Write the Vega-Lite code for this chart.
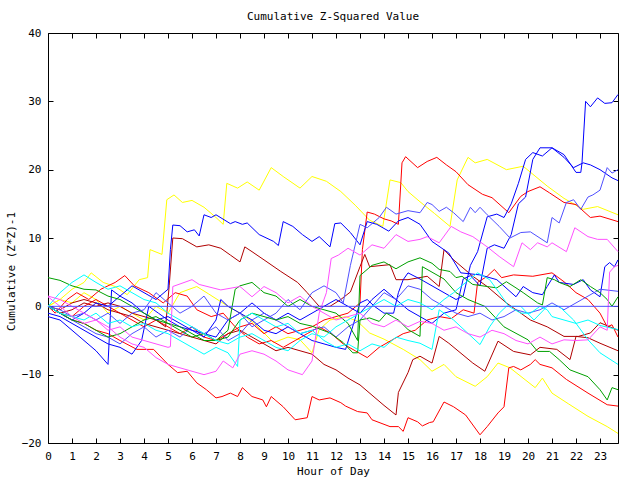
{
"$schema": "https://vega.github.io/schema/vega-lite/v6.json",
"autosize": "none",
"width": 570, "height": 410,
"padding": {"left": 48, "top": 33, "right": 22, "bottom": 37},
"background": "white",
"title": {"text": "Cumulative Z-Squared Value", "font": "DejaVu Sans Mono", "fontSize": 11, "fontWeight": "normal", "color": "black", "offset": 5, "anchor": "middle"},
"config": {"view": {"stroke": null},
 "axis": {"grid": false, "domainColor": "black", "tickColor": "black", "labelColor": "black", "titleColor": "black", "labelFont": "DejaVu Sans Mono", "titleFont": "DejaVu Sans Mono", "labelFontSize": 11, "titleFontSize": 11, "titleFontWeight": "normal", "tickSize": -5, "domainWidth": 1, "tickWidth": 1}},
"layer": [
{
"data": {"values": [
{"s":"Y1","h":0,"v":0},{"s":"Y1","h":0.5,"v":1},{"s":"Y1","h":1,"v":2.5},{"s":"Y1","h":1.5,"v":3.5},{"s":"Y1","h":1.8,"v":4.9},{"s":"Y1","h":2.3,"v":3.5},{"s":"Y1","h":2.8,"v":2.9},{"s":"Y1","h":3.3,"v":1.7},{"s":"Y1","h":3.8,"v":3.9},{"s":"Y1","h":4.15,"v":4.2},{"s":"Y1","h":4.25,"v":8.3},{"s":"Y1","h":4.75,"v":7.6},{"s":"Y1","h":4.95,"v":15.6},{"s":"Y1","h":5.25,"v":16.3},{"s":"Y1","h":5.6,"v":15.2},{"s":"Y1","h":6,"v":15.5},{"s":"Y1","h":6.5,"v":14.5},{"s":"Y1","h":7,"v":13},{"s":"Y1","h":7.3,"v":12},{"s":"Y1","h":7.45,"v":18},{"s":"Y1","h":7.9,"v":17.3},{"s":"Y1","h":8.3,"v":18.2},{"s":"Y1","h":8.8,"v":17},{"s":"Y1","h":9.3,"v":20.3},{"s":"Y1","h":9.8,"v":19},{"s":"Y1","h":10.5,"v":17.3},{"s":"Y1","h":11,"v":19},{"s":"Y1","h":11.6,"v":18.3},{"s":"Y1","h":12.2,"v":16.8},{"s":"Y1","h":12.8,"v":14.8},{"s":"Y1","h":13.4,"v":12.6},{"s":"Y1","h":13.95,"v":11.7},{"s":"Y1","h":14.25,"v":18.5},{"s":"Y1","h":14.7,"v":18.1},{"s":"Y1","h":15,"v":16.8},{"s":"Y1","h":15.5,"v":15.3},{"s":"Y1","h":16.1,"v":13.6},{"s":"Y1","h":16.75,"v":11.7},{"s":"Y1","h":17.05,"v":18.5},{"s":"Y1","h":17.5,"v":21.8},{"s":"Y1","h":17.8,"v":21},{"s":"Y1","h":18.3,"v":21.5},{"s":"Y1","h":19.1,"v":20},{"s":"Y1","h":19.8,"v":20.5},{"s":"Y1","h":20.8,"v":17.6},{"s":"Y1","h":21.5,"v":15.8},{"s":"Y1","h":22.3,"v":14.2},{"s":"Y1","h":22.9,"v":14.6},{"s":"Y1","h":23.75,"v":13.4},

{"s":"Y2","h":0,"v":0},{"s":"Y2","h":0.5,"v":1},{"s":"Y2","h":1,"v":0.5},{"s":"Y2","h":1.5,"v":2},{"s":"Y2","h":2,"v":1},{"s":"Y2","h":2.5,"v":-1},{"s":"Y2","h":3,"v":0},{"s":"Y2","h":3.5,"v":-1},{"s":"Y2","h":4,"v":-2},{"s":"Y2","h":4.5,"v":0},{"s":"Y2","h":5,"v":-1},{"s":"Y2","h":5.5,"v":2},{"s":"Y2","h":6.2,"v":2.9},{"s":"Y2","h":6.7,"v":1.8},{"s":"Y2","h":7.5,"v":0},{"s":"Y2","h":8,"v":-1},{"s":"Y2","h":8.6,"v":-2.5},{"s":"Y2","h":9.4,"v":-5.3},{"s":"Y2","h":10,"v":-4.5},{"s":"Y2","h":10.5,"v":-4.9},{"s":"Y2","h":11,"v":-6.8},{"s":"Y2","h":11.3,"v":-3.4},{"s":"Y2","h":11.75,"v":-2},{"s":"Y2","h":12.4,"v":-1.5},{"s":"Y2","h":12.9,"v":-2.2},{"s":"Y2","h":13.4,"v":-3.9},{"s":"Y2","h":14,"v":-4.8},{"s":"Y2","h":14.8,"v":-6.3},{"s":"Y2","h":15.5,"v":-7.8},{"s":"Y2","h":16,"v":-9.5},{"s":"Y2","h":16.5,"v":-8.5},{"s":"Y2","h":17,"v":-10.3},{"s":"Y2","h":17.8,"v":-11.7},{"s":"Y2","h":18.3,"v":-10.3},{"s":"Y2","h":18.75,"v":-8.3},{"s":"Y2","h":19.25,"v":-9},{"s":"Y2","h":20.3,"v":-11.9},{"s":"Y2","h":20.6,"v":-10.5},{"s":"Y2","h":21,"v":-12.7},{"s":"Y2","h":21.7,"v":-14.3},{"s":"Y2","h":22.5,"v":-16.1},{"s":"Y2","h":23.3,"v":-17.6},{"s":"Y2","h":23.75,"v":-18.6},

{"s":"R1","h":0,"v":0},{"s":"R1","h":0.5,"v":-1},{"s":"R1","h":1,"v":-1.5},{"s":"R1","h":1.5,"v":0},{"s":"R1","h":2,"v":1},{"s":"R1","h":2.5,"v":0},{"s":"R1","h":3,"v":-1},{"s":"R1","h":3.5,"v":-2},{"s":"R1","h":4,"v":-3},{"s":"R1","h":4.5,"v":-2},{"s":"R1","h":5,"v":-3},{"s":"R1","h":5.5,"v":-4},{"s":"R1","h":6,"v":-3},{"s":"R1","h":6.5,"v":-4.5},{"s":"R1","h":7,"v":-5},{"s":"R1","h":7.5,"v":-4},{"s":"R1","h":8,"v":-3},{"s":"R1","h":8.5,"v":-2.5},{"s":"R1","h":9,"v":-4},{"s":"R1","h":9.5,"v":-3},{"s":"R1","h":10,"v":-4},{"s":"R1","h":10.5,"v":-3.5},{"s":"R1","h":11,"v":-3},{"s":"R1","h":11.5,"v":-2},{"s":"R1","h":12,"v":-1.5},{"s":"R1","h":12.5,"v":-1},{"s":"R1","h":13,"v":0.5},{"s":"R1","h":13.1,"v":8.3},{"s":"R1","h":13.3,"v":13.8},{"s":"R1","h":13.6,"v":13.5},{"s":"R1","h":14,"v":12.8},{"s":"R1","h":14.3,"v":12.5},{"s":"R1","h":14.6,"v":12},{"s":"R1","h":14.75,"v":21},{"s":"R1","h":14.9,"v":21.9},{"s":"R1","h":15.4,"v":20.3},{"s":"R1","h":15.8,"v":21.2},{"s":"R1","h":16.2,"v":21.8},{"s":"R1","h":16.6,"v":20.7},{"s":"R1","h":17,"v":19.7},{"s":"R1","h":17.5,"v":17.8},{"s":"R1","h":18.1,"v":16.4},{"s":"R1","h":18.5,"v":15.9},{"s":"R1","h":19.2,"v":13.7},{"s":"R1","h":19.7,"v":16.1},{"s":"R1","h":20,"v":16.8},{"s":"R1","h":20.5,"v":17.5},{"s":"R1","h":20.9,"v":16.6},{"s":"R1","h":21.5,"v":15.2},{"s":"R1","h":22,"v":14.9},{"s":"R1","h":22.6,"v":13},{"s":"R1","h":23,"v":13.2},{"s":"R1","h":23.75,"v":12.4},

{"s":"R2","h":0,"v":0},{"s":"R2","h":0.3,"v":-1},{"s":"R2","h":0.8,"v":1},{"s":"R2","h":1.2,"v":2},{"s":"R2","h":1.7,"v":1},{"s":"R2","h":2.2,"v":2.5},{"s":"R2","h":2.8,"v":3.5},{"s":"R2","h":3.2,"v":4.5},{"s":"R2","h":3.6,"v":3},{"s":"R2","h":4.2,"v":2},{"s":"R2","h":4.8,"v":0.5},{"s":"R2","h":5.3,"v":2},{"s":"R2","h":5.8,"v":1.5},{"s":"R2","h":6.2,"v":-0.5},{"s":"R2","h":6.8,"v":-1.5},{"s":"R2","h":7.3,"v":-1},{"s":"R2","h":7.8,"v":-3},{"s":"R2","h":8.3,"v":-4.5},{"s":"R2","h":8.8,"v":-5.5},{"s":"R2","h":9.3,"v":-5},{"s":"R2","h":9.8,"v":-6},{"s":"R2","h":10.3,"v":-5},{"s":"R2","h":10.8,"v":-4},{"s":"R2","h":11.3,"v":-3},{"s":"R2","h":11.8,"v":-4},{"s":"R2","h":12.3,"v":-5.5},{"s":"R2","h":12.8,"v":-6.5},{"s":"R2","h":13.3,"v":-7.5},{"s":"R2","h":13.8,"v":-6},{"s":"R2","h":14.3,"v":-5},{"s":"R2","h":14.8,"v":-4},{"s":"R2","h":15.3,"v":-3.5},{"s":"R2","h":15.8,"v":-2},{"s":"R2","h":16.3,"v":-1.5},{"s":"R2","h":16.8,"v":-1.8},{"s":"R2","h":17.3,"v":-0.5},{"s":"R2","h":17.75,"v":-1},{"s":"R2","h":17.9,"v":3.5},{"s":"R2","h":18.3,"v":4.4},{"s":"R2","h":18.6,"v":5.4},{"s":"R2","h":18.9,"v":4.2},{"s":"R2","h":19.4,"v":4.6},{"s":"R2","h":20.2,"v":4.4},{"s":"R2","h":21,"v":4.9},{"s":"R2","h":21.5,"v":3.6},{"s":"R2","h":22,"v":2},{"s":"R2","h":22.5,"v":1},{"s":"R2","h":23,"v":-1},{"s":"R2","h":23.3,"v":-3},{"s":"R2","h":23.5,"v":-2.7},{"s":"R2","h":23.75,"v":-4.5},

{"s":"R3","h":0,"v":0},{"s":"R3","h":0.5,"v":-1},{"s":"R3","h":1,"v":-2},{"s":"R3","h":1.5,"v":-2.5},{"s":"R3","h":2,"v":-3.5},{"s":"R3","h":2.5,"v":-4},{"s":"R3","h":3,"v":-5},{"s":"R3","h":3.7,"v":-6.3},{"s":"R3","h":4.4,"v":-6.3},{"s":"R3","h":5,"v":-8.5},{"s":"R3","h":5.4,"v":-9.7},{"s":"R3","h":5.8,"v":-9.5},{"s":"R3","h":6.2,"v":-11.2},{"s":"R3","h":6.6,"v":-12.2},{"s":"R3","h":7,"v":-13.4},{"s":"R3","h":7.25,"v":-13.2},{"s":"R3","h":7.6,"v":-12.7},{"s":"R3","h":7.9,"v":-13.2},{"s":"R3","h":8.1,"v":-11.9},{"s":"R3","h":8.5,"v":-13.2},{"s":"R3","h":8.95,"v":-13.7},{"s":"R3","h":9.1,"v":-14.7},{"s":"R3","h":9.3,"v":-13.2},{"s":"R3","h":9.8,"v":-14.7},{"s":"R3","h":10.3,"v":-16.6},{"s":"R3","h":10.8,"v":-16.3},{"s":"R3","h":11,"v":-13.2},{"s":"R3","h":11.3,"v":-13.7},{"s":"R3","h":11.75,"v":-13.4},{"s":"R3","h":12.2,"v":-14.1},{"s":"R3","h":12.4,"v":-14.6},{"s":"R3","h":12.9,"v":-15.4},{"s":"R3","h":13.3,"v":-15.6},{"s":"R3","h":13.5,"v":-16.6},{"s":"R3","h":14.25,"v":-17.6},{"s":"R3","h":14.6,"v":-17.6},{"s":"R3","h":14.8,"v":-18.3},{"s":"R3","h":15,"v":-16.3},{"s":"R3","h":15.4,"v":-16.9},{"s":"R3","h":15.6,"v":-17.5},{"s":"R3","h":15.9,"v":-17},{"s":"R3","h":16.05,"v":-16.9},{"s":"R3","h":16.5,"v":-14},{"s":"R3","h":16.9,"v":-14.7},{"s":"R3","h":17.4,"v":-15.9},{"s":"R3","h":18,"v":-18.8},{"s":"R3","h":18.3,"v":-17.6},{"s":"R3","h":18.75,"v":-15.6},{"s":"R3","h":19,"v":-14.7},{"s":"R3","h":19.2,"v":-9},{"s":"R3","h":19.4,"v":-8.8},{"s":"R3","h":19.7,"v":-9.3},{"s":"R3","h":20.1,"v":-8.5},{"s":"R3","h":20.3,"v":-7.8},{"s":"R3","h":20.5,"v":-8.5},{"s":"R3","h":21,"v":-9},{"s":"R3","h":21.6,"v":-10.7},{"s":"R3","h":22.5,"v":-12.7},{"s":"R3","h":23.3,"v":-14.4},{"s":"R3","h":23.75,"v":-14.6},

{"s":"DH","h":0,"v":0},{"s":"DH","h":0.5,"v":-1},{"s":"DH","h":1,"v":-0.5},{"s":"DH","h":1.5,"v":0.5},{"s":"DH","h":2,"v":0},{"s":"DH","h":2.5,"v":0.5},{"s":"DH","h":3,"v":0},{"s":"DH","h":3.5,"v":-1},{"s":"DH","h":4,"v":-1.5},{"s":"DH","h":4.5,"v":-2},{"s":"DH","h":4.9,"v":-3},{"s":"DH","h":5.05,"v":3},{"s":"DH","h":5.2,"v":10},{"s":"DH","h":5.6,"v":9.9},{"s":"DH","h":6.2,"v":8.7},{"s":"DH","h":6.7,"v":9},{"s":"DH","h":7.2,"v":8.5},{"s":"DH","h":7.6,"v":7.5},{"s":"DH","h":8,"v":6.5},{"s":"DH","h":8.2,"v":8.7},{"s":"DH","h":8.5,"v":8},{"s":"DH","h":9,"v":6.8},{"s":"DH","h":9.7,"v":5.1},{"s":"DH","h":10.4,"v":3.5},{"s":"DH","h":10.8,"v":2},{"s":"DH","h":11.3,"v":0},{"s":"DH","h":11.75,"v":0},{"s":"DH","h":12.2,"v":1},{"s":"DH","h":12.6,"v":2.1},{"s":"DH","h":13,"v":5.8},{"s":"DH","h":13.2,"v":7.6},{"s":"DH","h":13.4,"v":5.8},{"s":"DH","h":14.25,"v":6.1},{"s":"DH","h":14.5,"v":3.9},{"s":"DH","h":15,"v":3.9},{"s":"DH","h":15.8,"v":4.4},{"s":"DH","h":16.3,"v":2.9},{"s":"DH","h":16.5,"v":8.3},{"s":"DH","h":16.9,"v":6.8},{"s":"DH","h":17.7,"v":4.4},{"s":"DH","h":18.3,"v":2.9},{"s":"DH","h":19.1,"v":0.5},{"s":"DH","h":20.1,"v":-2},{"s":"DH","h":20.8,"v":-3},{"s":"DH","h":21.5,"v":-4.4},{"s":"DH","h":22.1,"v":-4.4},{"s":"DH","h":22.6,"v":-3.9},{"s":"DH","h":23,"v":-2.4},{"s":"DH","h":23.75,"v":-3.5},

{"s":"DL","h":0,"v":0},{"s":"DL","h":0.5,"v":-0.5},{"s":"DL","h":1,"v":0.5},{"s":"DL","h":1.5,"v":1},{"s":"DL","h":2,"v":0.5},{"s":"DL","h":2.5,"v":-0.5},{"s":"DL","h":3,"v":-1},{"s":"DL","h":3.5,"v":-1.5},{"s":"DL","h":4,"v":-2.5},{"s":"DL","h":4.5,"v":-3},{"s":"DL","h":5,"v":-3.5},{"s":"DL","h":5.5,"v":-4},{"s":"DL","h":6,"v":-4.5},{"s":"DL","h":6.5,"v":-5},{"s":"DL","h":7,"v":-5.5},{"s":"DL","h":7.5,"v":-4},{"s":"DL","h":8,"v":-3.5},{"s":"DL","h":8.5,"v":-4.5},{"s":"DL","h":9,"v":-5.5},{"s":"DL","h":9.5,"v":-6.5},{"s":"DL","h":10,"v":-6},{"s":"DL","h":10.5,"v":-6.5},{"s":"DL","h":11,"v":-7},{"s":"DL","h":11.5,"v":-8.5},{"s":"DL","h":12,"v":-9.3},{"s":"DL","h":12.5,"v":-10.5},{"s":"DL","h":13,"v":-11.5},{"s":"DL","h":13.5,"v":-13},{"s":"DL","h":14,"v":-14.5},{"s":"DL","h":14.5,"v":-15.9},{"s":"DL","h":14.6,"v":-12.6},{"s":"DL","h":15,"v":-9.7},{"s":"DL","h":15.2,"v":-7.8},{"s":"DL","h":15.5,"v":-7.3},{"s":"DL","h":16,"v":-8.3},{"s":"DL","h":16.3,"v":-4.4},{"s":"DL","h":16.7,"v":-5.4},{"s":"DL","h":17.7,"v":-8.3},{"s":"DL","h":18.2,"v":-9.5},{"s":"DL","h":18.75,"v":-5.1},{"s":"DL","h":19.4,"v":-6.6},{"s":"DL","h":20.1,"v":-7.1},{"s":"DL","h":20.5,"v":-6},{"s":"DL","h":21.2,"v":-6.3},{"s":"DL","h":21.75,"v":-7.8},{"s":"DL","h":22,"v":-4.4},{"s":"DL","h":22.5,"v":-4.6},{"s":"DL","h":23,"v":-5.4},{"s":"DL","h":23.75,"v":-6.5},

{"s":"B1","h":0,"v":-1.5},{"s":"B1","h":0.5,"v":-2},{"s":"B1","h":1,"v":-3.5},{"s":"B1","h":1.5,"v":-5},{"s":"B1","h":2,"v":-6.5},{"s":"B1","h":2.5,"v":-8.5},{"s":"B1","h":2.65,"v":2.4},{"s":"B1","h":3,"v":1.5},{"s":"B1","h":3.5,"v":0.5},{"s":"B1","h":4,"v":-1},{"s":"B1","h":4.5,"v":-2},{"s":"B1","h":5,"v":-1.5},{"s":"B1","h":5.5,"v":-2.5},{"s":"B1","h":6,"v":-3.5},{"s":"B1","h":6.5,"v":-4.5},{"s":"B1","h":7,"v":-2},{"s":"B1","h":7.2,"v":1},{"s":"B1","h":7.5,"v":0},{"s":"B1","h":8,"v":-1},{"s":"B1","h":8.5,"v":0.5},{"s":"B1","h":9,"v":-1},{"s":"B1","h":9.5,"v":-2},{"s":"B1","h":10,"v":-1},{"s":"B1","h":10.5,"v":-2},{"s":"B1","h":11,"v":-1},{"s":"B1","h":11.5,"v":0},{"s":"B1","h":12,"v":1},{"s":"B1","h":12.5,"v":0},{"s":"B1","h":13,"v":-1},{"s":"B1","h":13.5,"v":1},{"s":"B1","h":14,"v":2.5},{"s":"B1","h":14.5,"v":1},{"s":"B1","h":15,"v":-0.5},{"s":"B1","h":15.5,"v":-1.5},{"s":"B1","h":16,"v":-2.5},{"s":"B1","h":16.5,"v":-1},{"s":"B1","h":17,"v":-0.5},{"s":"B1","h":17.3,"v":4},{"s":"B1","h":17.6,"v":4.5},{"s":"B1","h":18,"v":3},{"s":"B1","h":18.3,"v":8.5},{"s":"B1","h":18.6,"v":9},{"s":"B1","h":19,"v":8.5},{"s":"B1","h":19.3,"v":10.5},{"s":"B1","h":19.6,"v":15},{"s":"B1","h":19.9,"v":16},{"s":"B1","h":20.2,"v":21.5},{"s":"B1","h":20.5,"v":23.2},{"s":"B1","h":21,"v":23.2},{"s":"B1","h":21.5,"v":22.2},{"s":"B1","h":22,"v":19.6},{"s":"B1","h":22.2,"v":19.6},{"s":"B1","h":22.25,"v":21},{"s":"B1","h":22.4,"v":30},{"s":"B1","h":22.6,"v":29.2},{"s":"B1","h":22.9,"v":30.5},{"s":"B1","h":23.2,"v":29.7},{"s":"B1","h":23.5,"v":29.8},{"s":"B1","h":23.75,"v":31},

{"s":"B2","h":0,"v":-1},{"s":"B2","h":0.5,"v":-1.5},{"s":"B2","h":1,"v":-2.5},{"s":"B2","h":1.5,"v":-3.5},{"s":"B2","h":2,"v":-4.5},{"s":"B2","h":2.5,"v":-5.5},{"s":"B2","h":3,"v":-6},{"s":"B2","h":3.5,"v":-7},{"s":"B2","h":3.9,"v":-5},{"s":"B2","h":4.2,"v":0},{"s":"B2","h":4.6,"v":-1},{"s":"B2","h":5,"v":-2},{"s":"B2","h":5.5,"v":-3},{"s":"B2","h":6,"v":-3.5},{"s":"B2","h":6.5,"v":-4},{"s":"B2","h":7,"v":-4.5},{"s":"B2","h":7.5,"v":-2},{"s":"B2","h":8,"v":-1},{"s":"B2","h":8.5,"v":-2},{"s":"B2","h":9,"v":-3.5},{"s":"B2","h":9.5,"v":-4},{"s":"B2","h":10,"v":-3},{"s":"B2","h":10.5,"v":-4},{"s":"B2","h":11,"v":-5},{"s":"B2","h":11.5,"v":-5.5},{"s":"B2","h":12,"v":-6},{"s":"B2","h":12.4,"v":-6.3},{"s":"B2","h":12.7,"v":-2.9},{"s":"B2","h":13,"v":0.5},{"s":"B2","h":13.3,"v":1},{"s":"B2","h":13.6,"v":0},{"s":"B2","h":14,"v":-1},{"s":"B2","h":14.4,"v":-1},{"s":"B2","h":14.6,"v":2},{"s":"B2","h":14.8,"v":3.9},{"s":"B2","h":15,"v":4.9},{"s":"B2","h":15.5,"v":4},{"s":"B2","h":16,"v":3},{"s":"B2","h":16.5,"v":2},{"s":"B2","h":17,"v":1},{"s":"B2","h":17.3,"v":1.5},{"s":"B2","h":17.6,"v":6},{"s":"B2","h":17.9,"v":8},{"s":"B2","h":18.3,"v":13.1},{"s":"B2","h":18.7,"v":13.5},{"s":"B2","h":19,"v":13},{"s":"B2","h":19.3,"v":15},{"s":"B2","h":19.6,"v":18},{"s":"B2","h":19.9,"v":21.5},{"s":"B2","h":20.2,"v":22.5},{"s":"B2","h":20.6,"v":22},{"s":"B2","h":21,"v":23.2},{"s":"B2","h":21.5,"v":21.8},{"s":"B2","h":21.9,"v":20.3},{"s":"B2","h":22.3,"v":21},{"s":"B2","h":22.6,"v":20.7},{"s":"B2","h":23,"v":20},{"s":"B2","h":23.5,"v":18.8},{"s":"B2","h":23.75,"v":18.4},

{"s":"B3","h":0,"v":0},{"s":"B3","h":0.5,"v":-1},{"s":"B3","h":1,"v":-2},{"s":"B3","h":1.5,"v":-1},{"s":"B3","h":2,"v":0.5},{"s":"B3","h":2.5,"v":0},{"s":"B3","h":3,"v":1.5},{"s":"B3","h":3.5,"v":3},{"s":"B3","h":4,"v":2},{"s":"B3","h":4.5,"v":1},{"s":"B3","h":5,"v":2.5},{"s":"B3","h":5.1,"v":8.3},{"s":"B3","h":5.2,"v":11.9},{"s":"B3","h":5.5,"v":11.8},{"s":"B3","h":5.8,"v":10.9},{"s":"B3","h":6.1,"v":11.2},{"s":"B3","h":6.3,"v":10.3},{"s":"B3","h":6.5,"v":13.4},{"s":"B3","h":6.8,"v":13},{"s":"B3","h":7,"v":13.4},{"s":"B3","h":7.6,"v":12.1},{"s":"B3","h":7.8,"v":12.4},{"s":"B3","h":8.1,"v":12},{"s":"B3","h":8.3,"v":12.2},{"s":"B3","h":8.8,"v":10.5},{"s":"B3","h":9.4,"v":9.5},{"s":"B3","h":9.6,"v":8.9},{"s":"B3","h":9.8,"v":12.4},{"s":"B3","h":10.2,"v":11.7},{"s":"B3","h":10.6,"v":10.5},{"s":"B3","h":11,"v":9.5},{"s":"B3","h":11.3,"v":10.2},{"s":"B3","h":11.75,"v":8.7},{"s":"B3","h":11.95,"v":12.1},{"s":"B3","h":12.2,"v":12.2},{"s":"B3","h":12.6,"v":10.8},{"s":"B3","h":13,"v":9},{"s":"B3","h":13.3,"v":12.4},{"s":"B3","h":13.7,"v":12},{"s":"B3","h":14.2,"v":11},{"s":"B3","h":14.6,"v":12.5},{"s":"B3","h":15,"v":13},{"s":"B3","h":15.5,"v":12},{"s":"B3","h":16,"v":9.5},{"s":"B3","h":16.7,"v":7.8},{"s":"B3","h":17.2,"v":4.9},{"s":"B3","h":18,"v":4.6},{"s":"B3","h":18.7,"v":3.9},{"s":"B3","h":19.5,"v":1.4},{"s":"B3","h":19.8,"v":2.9},{"s":"B3","h":20.2,"v":2},{"s":"B3","h":20.6,"v":1.7},{"s":"B3","h":20.8,"v":2.9},{"s":"B3","h":21.1,"v":4.6},{"s":"B3","h":21.3,"v":3.5},{"s":"B3","h":21.9,"v":3.2},{"s":"B3","h":22.3,"v":3.9},{"s":"B3","h":22.6,"v":2.4},{"s":"B3","h":23,"v":1.4},{"s":"B3","h":23.2,"v":5.8},{"s":"B3","h":23.4,"v":6.4},{"s":"B3","h":23.6,"v":5.8},{"s":"B3","h":23.75,"v":6.8},

{"s":"M1","h":0,"v":0},{"s":"M1","h":0.5,"v":-0.5},{"s":"M1","h":1,"v":-1.5},{"s":"M1","h":1.5,"v":-1},{"s":"M1","h":2,"v":-2},{"s":"M1","h":2.5,"v":-1},{"s":"M1","h":3,"v":-2.5},{"s":"M1","h":3.5,"v":-1},{"s":"M1","h":4,"v":-0.5},{"s":"M1","h":4.5,"v":2},{"s":"M1","h":5,"v":0.5},{"s":"M1","h":5.5,"v":-1},{"s":"M1","h":6,"v":0},{"s":"M1","h":6.5,"v":1.5},{"s":"M1","h":7,"v":-1},{"s":"M1","h":7.5,"v":-2},{"s":"M1","h":8,"v":-1},{"s":"M1","h":8.5,"v":-3},{"s":"M1","h":9,"v":-2},{"s":"M1","h":9.5,"v":-1},{"s":"M1","h":10,"v":1},{"s":"M1","h":10.5,"v":-0.5},{"s":"M1","h":11,"v":2},{"s":"M1","h":11.5,"v":3},{"s":"M1","h":12,"v":2},{"s":"M1","h":12.3,"v":0.5},{"s":"M1","h":12.6,"v":6},{"s":"M1","h":13,"v":12},{"s":"M1","h":13.3,"v":11.5},{"s":"M1","h":13.8,"v":13},{"s":"M1","h":14.1,"v":14.5},{"s":"M1","h":14.5,"v":13.5},{"s":"M1","h":15,"v":14},{"s":"M1","h":15.5,"v":13.7},{"s":"M1","h":15.8,"v":15.2},{"s":"M1","h":16,"v":14.9},{"s":"M1","h":16.3,"v":13.9},{"s":"M1","h":16.6,"v":14.5},{"s":"M1","h":16.9,"v":13.7},{"s":"M1","h":17.3,"v":12.4},{"s":"M1","h":17.6,"v":14.5},{"s":"M1","h":17.8,"v":13.7},{"s":"M1","h":18,"v":14.5},{"s":"M1","h":18.3,"v":13.4},{"s":"M1","h":18.8,"v":11.7},{"s":"M1","h":19.25,"v":10},{"s":"M1","h":19.7,"v":10.8},{"s":"M1","h":20.1,"v":10.9},{"s":"M1","h":20.8,"v":9.3},{"s":"M1","h":21,"v":13},{"s":"M1","h":21.3,"v":12.2},{"s":"M1","h":21.6,"v":15.2},{"s":"M1","h":21.9,"v":15.6},{"s":"M1","h":22.2,"v":14.2},{"s":"M1","h":22.5,"v":16},{"s":"M1","h":22.7,"v":16.3},{"s":"M1","h":23,"v":17},{"s":"M1","h":23.3,"v":20.3},{"s":"M1","h":23.5,"v":19.5},{"s":"M1","h":23.75,"v":20},

{"s":"M2","h":0,"v":0},{"s":"M2","h":0.5,"v":-1},{"s":"M2","h":1,"v":-2},{"s":"M2","h":1.5,"v":-3},{"s":"M2","h":2,"v":-4},{"s":"M2","h":2.5,"v":-4.5},{"s":"M2","h":3,"v":-5.5},{"s":"M2","h":3.5,"v":-4},{"s":"M2","h":4,"v":-3},{"s":"M2","h":4.5,"v":-4.5},{"s":"M2","h":5,"v":-3.5},{"s":"M2","h":5.5,"v":-4.5},{"s":"M2","h":6,"v":-3},{"s":"M2","h":6.5,"v":-4},{"s":"M2","h":7,"v":-3},{"s":"M2","h":7.5,"v":-5},{"s":"M2","h":8,"v":-4},{"s":"M2","h":8.5,"v":-2},{"s":"M2","h":9,"v":-1},{"s":"M2","h":9.5,"v":-2},{"s":"M2","h":10,"v":-3},{"s":"M2","h":10.5,"v":-4},{"s":"M2","h":11,"v":-3.5},{"s":"M2","h":11.5,"v":-3},{"s":"M2","h":12,"v":-4.5},{"s":"M2","h":12.5,"v":-3},{"s":"M2","h":13,"v":-2},{"s":"M2","h":13.5,"v":0},{"s":"M2","h":14,"v":2},{"s":"M2","h":14.5,"v":1},{"s":"M2","h":15,"v":3},{"s":"M2","h":15.5,"v":2.5},{"s":"M2","h":16,"v":1},{"s":"M2","h":16.5,"v":0},{"s":"M2","h":17,"v":-1},{"s":"M2","h":17.5,"v":-1.5},{"s":"M2","h":18,"v":-1},{"s":"M2","h":18.5,"v":-2},{"s":"M2","h":19,"v":-1.5},{"s":"M2","h":19.5,"v":-0.5},{"s":"M2","h":20,"v":-1},{"s":"M2","h":20.5,"v":-0.5},{"s":"M2","h":21,"v":0.5},{"s":"M2","h":21.5,"v":-0.5},{"s":"M2","h":22,"v":0.5},{"s":"M2","h":22.5,"v":1.5},{"s":"M2","h":23,"v":2.5},{"s":"M2","h":23.75,"v":2.2},

{"s":"G1","h":0,"v":0},{"s":"G1","h":0.5,"v":-1},{"s":"G1","h":1,"v":-2},{"s":"G1","h":1.5,"v":-2.5},{"s":"G1","h":2,"v":-3.5},{"s":"G1","h":2.5,"v":-4.5},{"s":"G1","h":3,"v":-4},{"s":"G1","h":3.5,"v":-3},{"s":"G1","h":4,"v":-2},{"s":"G1","h":4.5,"v":-1.5},{"s":"G1","h":5,"v":-2.5},{"s":"G1","h":5.5,"v":-3},{"s":"G1","h":6,"v":-4},{"s":"G1","h":6.5,"v":-5},{"s":"G1","h":7,"v":-5},{"s":"G1","h":7.5,"v":-3.5},{"s":"G1","h":7.8,"v":2.5},{"s":"G1","h":8,"v":3},{"s":"G1","h":8.5,"v":3.5},{"s":"G1","h":9,"v":2},{"s":"G1","h":9.5,"v":1.5},{"s":"G1","h":10,"v":0},{"s":"G1","h":10.5,"v":1},{"s":"G1","h":11,"v":0},{"s":"G1","h":11.5,"v":-0.5},{"s":"G1","h":12,"v":-1},{"s":"G1","h":12.5,"v":-2.5},{"s":"G1","h":12.9,"v":-5},{"s":"G1","h":13,"v":4.5},{"s":"G1","h":13.5,"v":6},{"s":"G1","h":14,"v":6.5},{"s":"G1","h":14.5,"v":5.5},{"s":"G1","h":15,"v":6.5},{"s":"G1","h":15.5,"v":7.1},{"s":"G1","h":16,"v":6.3},{"s":"G1","h":16.3,"v":5.4},{"s":"G1","h":16.75,"v":5.1},{"s":"G1","h":17,"v":4.2},{"s":"G1","h":17.25,"v":4.4},{"s":"G1","h":17.7,"v":3.2},{"s":"G1","h":18.3,"v":2.9},{"s":"G1","h":18.7,"v":2.7},{"s":"G1","h":19.1,"v":3.6},{"s":"G1","h":19.5,"v":2.7},{"s":"G1","h":19.8,"v":2},{"s":"G1","h":20.4,"v":0.5},{"s":"G1","h":20.6,"v":0.2},{"s":"G1","h":20.8,"v":4.2},{"s":"G1","h":21.1,"v":3.9},{"s":"G1","h":21.3,"v":3.5},{"s":"G1","h":21.75,"v":2.9},{"s":"G1","h":22.2,"v":3.9},{"s":"G1","h":22.6,"v":2.9},{"s":"G1","h":23,"v":2},{"s":"G1","h":23.3,"v":1},{"s":"G1","h":23.5,"v":0},{"s":"G1","h":23.75,"v":1.4},

{"s":"G2","h":0,"v":4.2},{"s":"G2","h":0.5,"v":3.8},{"s":"G2","h":1,"v":3},{"s":"G2","h":1.5,"v":2.5},{"s":"G2","h":2,"v":2.4},{"s":"G2","h":2.5,"v":1.5},{"s":"G2","h":3,"v":1},{"s":"G2","h":3.5,"v":0},{"s":"G2","h":4,"v":-1},{"s":"G2","h":4.5,"v":-2},{"s":"G2","h":5,"v":-2.5},{"s":"G2","h":5.5,"v":-3.5},{"s":"G2","h":6,"v":-4.5},{"s":"G2","h":6.5,"v":-4},{"s":"G2","h":7,"v":-5},{"s":"G2","h":7.5,"v":-4.5},{"s":"G2","h":7.8,"v":-3},{"s":"G2","h":8,"v":-2},{"s":"G2","h":8.5,"v":-1},{"s":"G2","h":9,"v":-1.5},{"s":"G2","h":9.5,"v":-2},{"s":"G2","h":10,"v":-1.5},{"s":"G2","h":10.5,"v":-2.5},{"s":"G2","h":11,"v":-2.9},{"s":"G2","h":11.75,"v":-3.9},{"s":"G2","h":12.3,"v":-5.3},{"s":"G2","h":12.7,"v":-6.8},{"s":"G2","h":12.9,"v":-6.8},{"s":"G2","h":13,"v":-2},{"s":"G2","h":13.4,"v":-1.7},{"s":"G2","h":13.8,"v":-2.2},{"s":"G2","h":14.1,"v":-1},{"s":"G2","h":14.6,"v":-2},{"s":"G2","h":15,"v":-3.4},{"s":"G2","h":15.5,"v":-4.4},{"s":"G2","h":15.6,"v":5.8},{"s":"G2","h":16,"v":5},{"s":"G2","h":16.5,"v":4},{"s":"G2","h":17,"v":2},{"s":"G2","h":17.5,"v":1},{"s":"G2","h":18.2,"v":0},{"s":"G2","h":19,"v":-3},{"s":"G2","h":20,"v":-4.9},{"s":"G2","h":20.4,"v":-6.6},{"s":"G2","h":20.9,"v":-6.6},{"s":"G2","h":21.3,"v":-7.8},{"s":"G2","h":21.75,"v":-9.3},{"s":"G2","h":22.5,"v":-10.3},{"s":"G2","h":23,"v":-12.2},{"s":"G2","h":23.3,"v":-13.7},{"s":"G2","h":23.5,"v":-11.9},{"s":"G2","h":23.75,"v":-12.2},

{"s":"C1","h":0,"v":0},{"s":"C1","h":0.5,"v":2},{"s":"C1","h":1,"v":3.5},{"s":"C1","h":1.5,"v":4.6},{"s":"C1","h":2,"v":3.5},{"s":"C1","h":2.5,"v":2.5},{"s":"C1","h":3,"v":3},{"s":"C1","h":3.5,"v":2},{"s":"C1","h":4,"v":1},{"s":"C1","h":4.5,"v":0.5},{"s":"C1","h":5,"v":-1},{"s":"C1","h":5.5,"v":-2},{"s":"C1","h":6,"v":-3},{"s":"C1","h":6.5,"v":-4},{"s":"C1","h":7,"v":-5},{"s":"C1","h":7.5,"v":-5.5},{"s":"C1","h":8,"v":-4.5},{"s":"C1","h":8.5,"v":-4},{"s":"C1","h":9,"v":-5},{"s":"C1","h":9.5,"v":-6},{"s":"C1","h":10,"v":-6.5},{"s":"C1","h":10.5,"v":-5},{"s":"C1","h":11,"v":-4},{"s":"C1","h":11.5,"v":-4.5},{"s":"C1","h":12,"v":-3},{"s":"C1","h":12.5,"v":-2},{"s":"C1","h":13,"v":-1},{"s":"C1","h":13.5,"v":0},{"s":"C1","h":14,"v":1},{"s":"C1","h":14.5,"v":0},{"s":"C1","h":15,"v":1},{"s":"C1","h":15.5,"v":0.5},{"s":"C1","h":16,"v":-0.5},{"s":"C1","h":16.5,"v":1},{"s":"C1","h":16.9,"v":2},{"s":"C1","h":17.2,"v":2.9},{"s":"C1","h":17.9,"v":4.9},{"s":"C1","h":18.4,"v":3.9},{"s":"C1","h":18.8,"v":2},{"s":"C1","h":19.2,"v":0},{"s":"C1","h":19.7,"v":-1},{"s":"C1","h":20.1,"v":-1},{"s":"C1","h":20.5,"v":0},{"s":"C1","h":20.8,"v":-0.5},{"s":"C1","h":21,"v":-1.5},{"s":"C1","h":21.5,"v":-2},{"s":"C1","h":22,"v":-2.5},{"s":"C1","h":22.5,"v":-2},{"s":"C1","h":23,"v":-2.8},{"s":"C1","h":23.75,"v":-3.4},

{"s":"C2","h":0,"v":0},{"s":"C2","h":0.5,"v":-1},{"s":"C2","h":1,"v":-1.5},{"s":"C2","h":1.5,"v":-2},{"s":"C2","h":2,"v":-1},{"s":"C2","h":2.5,"v":-2.5},{"s":"C2","h":3,"v":-2},{"s":"C2","h":3.5,"v":-3},{"s":"C2","h":4,"v":-2.5},{"s":"C2","h":4.5,"v":-3.5},{"s":"C2","h":5,"v":-4},{"s":"C2","h":5.5,"v":-5},{"s":"C2","h":6,"v":-6},{"s":"C2","h":6.5,"v":-7},{"s":"C2","h":7,"v":-6},{"s":"C2","h":7.5,"v":-6.8},{"s":"C2","h":7.9,"v":-8.8},{"s":"C2","h":8,"v":-2},{"s":"C2","h":8.5,"v":-1},{"s":"C2","h":9,"v":-2},{"s":"C2","h":9.5,"v":-3},{"s":"C2","h":10,"v":-2.5},{"s":"C2","h":10.5,"v":-4},{"s":"C2","h":11,"v":-3.5},{"s":"C2","h":11.5,"v":-5},{"s":"C2","h":12,"v":-6},{"s":"C2","h":12.5,"v":-5.5},{"s":"C2","h":13,"v":-6.5},{"s":"C2","h":13.5,"v":-5.5},{"s":"C2","h":14,"v":-6},{"s":"C2","h":14.5,"v":-4.5},{"s":"C2","h":15,"v":-5},{"s":"C2","h":15.5,"v":-5.4},{"s":"C2","h":16,"v":-6.3},{"s":"C2","h":16.3,"v":-0.5},{"s":"C2","h":16.9,"v":-2},{"s":"C2","h":18,"v":-5.6},{"s":"C2","h":18.4,"v":-3},{"s":"C2","h":18.8,"v":-1},{"s":"C2","h":19.1,"v":0},{"s":"C2","h":19.7,"v":0},{"s":"C2","h":20.25,"v":-2},{"s":"C2","h":20.8,"v":0},{"s":"C2","h":21.3,"v":0},{"s":"C2","h":21.9,"v":-2},{"s":"C2","h":22.5,"v":-4.9},{"s":"C2","h":23,"v":-6.8},{"s":"C2","h":23.75,"v":-8.5},

{"s":"P1","h":0,"v":1.5},{"s":"P1","h":0.5,"v":1},{"s":"P1","h":1,"v":0},{"s":"P1","h":1.5,"v":-1},{"s":"P1","h":2,"v":-2},{"s":"P1","h":2.5,"v":-3},{"s":"P1","h":3,"v":-4.5},{"s":"P1","h":3.5,"v":-5.5},{"s":"P1","h":4,"v":-6},{"s":"P1","h":4.5,"v":-7.5},{"s":"P1","h":5,"v":-8.5},{"s":"P1","h":5.5,"v":-9},{"s":"P1","h":6,"v":-9.5},{"s":"P1","h":6.5,"v":-10},{"s":"P1","h":7,"v":-9.5},{"s":"P1","h":7.3,"v":-8},{"s":"P1","h":7.7,"v":-9},{"s":"P1","h":8,"v":-7},{"s":"P1","h":8.5,"v":-6.5},{"s":"P1","h":9,"v":-7},{"s":"P1","h":9.5,"v":-8},{"s":"P1","h":10,"v":-9.3},{"s":"P1","h":10.6,"v":-10},{"s":"P1","h":11,"v":-8},{"s":"P1","h":11.3,"v":-1},{"s":"P1","h":11.6,"v":2},{"s":"P1","h":11.8,"v":7},{"s":"P1","h":12.1,"v":7.5},{"s":"P1","h":12.5,"v":8.5},{"s":"P1","h":13,"v":7.5},{"s":"P1","h":13.5,"v":9},{"s":"P1","h":14,"v":8.5},{"s":"P1","h":14.5,"v":10.5},{"s":"P1","h":15,"v":9.5},{"s":"P1","h":15.5,"v":9.8},{"s":"P1","h":15.8,"v":10.2},{"s":"P1","h":16.3,"v":9.3},{"s":"P1","h":16.8,"v":11.7},{"s":"P1","h":17.2,"v":10.9},{"s":"P1","h":17.7,"v":10.2},{"s":"P1","h":18.3,"v":8.7},{"s":"P1","h":18.8,"v":7.3},{"s":"P1","h":19.4,"v":5.8},{"s":"P1","h":19.75,"v":9.3},{"s":"P1","h":20.1,"v":8.3},{"s":"P1","h":20.4,"v":9.3},{"s":"P1","h":20.8,"v":8.7},{"s":"P1","h":21,"v":9.3},{"s":"P1","h":21.6,"v":8},{"s":"P1","h":21.95,"v":11.5},{"s":"P1","h":22.5,"v":10.2},{"s":"P1","h":22.9,"v":9.8},{"s":"P1","h":23.3,"v":9.8},{"s":"P1","h":23.75,"v":8},

{"s":"P2","h":0,"v":1.4},{"s":"P2","h":0.5,"v":0},{"s":"P2","h":1,"v":-1.5},{"s":"P2","h":1.5,"v":-2.5},{"s":"P2","h":2,"v":-2},{"s":"P2","h":2.5,"v":-3.5},{"s":"P2","h":3,"v":-3},{"s":"P2","h":3.5,"v":-4.5},{"s":"P2","h":4,"v":-5},{"s":"P2","h":4.5,"v":-5.5},{"s":"P2","h":5,"v":-6},{"s":"P2","h":5.1,"v":-5.9},{"s":"P2","h":5.2,"v":2.9},{"s":"P2","h":6,"v":3.9},{"s":"P2","h":6.3,"v":3.2},{"s":"P2","h":7.2,"v":2.4},{"s":"P2","h":8,"v":2.9},{"s":"P2","h":8.5,"v":1.4},{"s":"P2","h":9,"v":2.9},{"s":"P2","h":9.5,"v":2},{"s":"P2","h":10,"v":0.5},{"s":"P2","h":10.5,"v":1.5},{"s":"P2","h":11,"v":0},{"s":"P2","h":11.5,"v":-1},{"s":"P2","h":12,"v":-2},{"s":"P2","h":12.5,"v":-1.5},{"s":"P2","h":13,"v":-1},{"s":"P2","h":13.5,"v":-2.5},{"s":"P2","h":14,"v":-3},{"s":"P2","h":14.5,"v":-2},{"s":"P2","h":15,"v":-3},{"s":"P2","h":15.5,"v":-2.2},{"s":"P2","h":16,"v":-2.5},{"s":"P2","h":16.5,"v":-3.5},{"s":"P2","h":17,"v":-3},{"s":"P2","h":17.5,"v":-4},{"s":"P2","h":18,"v":-4.5},{"s":"P2","h":18.5,"v":-3.5},{"s":"P2","h":19,"v":-4},{"s":"P2","h":19.5,"v":-5},{"s":"P2","h":20,"v":-5.5},{"s":"P2","h":20.5,"v":-4.5},{"s":"P2","h":21,"v":-5.5},{"s":"P2","h":21.5,"v":-4.9},{"s":"P2","h":22,"v":-5},{"s":"P2","h":22.5,"v":-4.9},{"s":"P2","h":23,"v":-3},{"s":"P2","h":23.3,"v":-3.5},{"s":"P2","h":23.4,"v":5},{"s":"P2","h":23.6,"v":5.8},{"s":"P2","h":23.75,"v":6}
]},
"mark": {"type": "line", "strokeWidth": 1, "interpolate": "linear"},
"encoding": {
 "x": {"field": "h", "type": "quantitative", "scale": {"domain": [0, 23.75], "nice": false, "zero": false},
   "axis": {"values": [0,1,2,3,4,5,6,7,8,9,10,11,12,13,14,15,16,17,18,19,20,21,22,23], "title": "Hour of Day", "labelPadding": 12, "titlePadding": 4, "labelFlush": false}},
 "y": {"field": "v", "type": "quantitative", "scale": {"domain": [-20, 40], "nice": false, "zero": false},
   "axis": {"values": [-20,-10,0,10,20,30,40], "title": "Cumulative (Z*Z)-1", "labelPadding": 12, "labelFlush": false, "titleX": -37, "titleY": 238, "titleAngle": 270, "titleAlign": "center", "titleBaseline": "middle"}},
 "detail": {"field": "s"},
 "color": {"field": "s", "type": "nominal", "legend": null, "sort": null,
   "scale": {"domain": ["Y1","Y2","R1","R2","R3","DH","DL","B1","B2","B3","M1","M2","G1","G2","C1","C2","P1","P2"],
             "range": ["#ffff00","#ffff00","#ff0000","#ff0000","#ff0000","#b00000","#b00000","#0000ff","#0000ff","#0000ff","#5050ff","#5050ff","#00a000","#00a000","#00ffff","#00ffff","#ff50ff","#ff50ff"]}}
}
},
{
"data": {"values": [{"h": 0, "v": 0}, {"h": 23.75, "v": 0}]},
"mark": {"type": "line", "strokeWidth": 1, "color": "#5050ff"},
"encoding": {
 "x": {"field": "h", "type": "quantitative", "scale": {"domain": [0, 23.75], "nice": false, "zero": false},
   "axis": {"orient": "top", "values": [0,1,2,3,4,5,6,7,8,9,10,11,12,13,14,15,16,17,18,19,20,21,22,23], "labels": false, "title": null}},
 "y": {"field": "v", "type": "quantitative", "scale": {"domain": [-20, 40], "nice": false, "zero": false},
   "axis": {"orient": "right", "values": [-20,-10,0,10,20,30,40], "labels": false, "title": null}}
}
}
],
"resolve": {"axis": {"x": "independent", "y": "independent"}}
}
